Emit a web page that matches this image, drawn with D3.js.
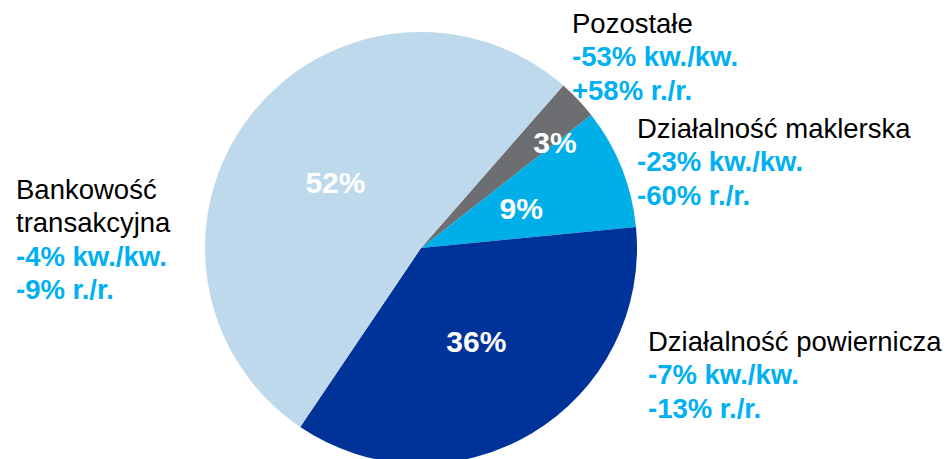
<!DOCTYPE html>
<html>
<head>
<meta charset="utf-8">
<script src="https://cdn.jsdelivr.net/npm/d3@7"></script>
<style>
  html, body { margin: 0; padding: 0; background: #fff; overflow: hidden; }
  text { font-family: Arial, "Liberation Sans", sans-serif; }
</style>
</head>
<body>
<div id="chart"></div>
<script>
// data
var categories = ["Pozostałe", "Działalność maklerska", "Działalność powiernicza", "Bankowość transakcyjna"];
var shares = [3, 9, 36, 52];
var qoq = ["-53% kw./kw.", "-23% kw./kw.", "-7% kw./kw.", "-4% kw./kw."];
var yoy = ["+58% r./r.", "-60% r./r.", "-13% r./r.", "-9% r./r."];

var cfg = {
  w: 949,
  h: 459,
  cx: 421,
  cy: 248,
  r: 216,
  startDeg: 41.2,
  color: ["#6d6e71", "#00aee8", "#003399", "#bed9eb"],
  textBlue: "#00b0f0",
  fontSize: 27.5,
  lineH: 33.4
};

// where each outside label block sits (x, baseline of first line), label lines split
var outside = [
  {x: 572, y: 33, lines: ["Pozostałe"]},
  {x: 637, y: 138, lines: ["Działalność maklerska"]},
  {x: 648, y: 351, lines: ["Działalność powiernicza"]},
  {x: 16, y: 199, lines: ["Bankowość", "transakcyjna"]}
];

var svg = d3.select("#chart")
  .append("svg")
  .attr("width", cfg.w)
  .attr("height", cfg.h);

var g = svg.append("g")
  .attr("transform", "translate(" + cfg.cx + "," + cfg.cy + ")");

var pie = d3.pie()
  .sort(null)
  .value(function(d) { return d; })
  .startAngle(cfg.startDeg * Math.PI / 180)
  .endAngle(cfg.startDeg * Math.PI / 180 + 2 * Math.PI);

var arcs = pie(shares);

var arc = d3.arc().innerRadius(0).outerRadius(cfg.r);

g.selectAll("path.slice")
  .data(arcs)
  .enter()
  .append("path")
  .attr("class", "slice")
  .attr("d", arc)
  .attr("fill", function(d, i) { return cfg.color[i]; });

// percent labels inside the slices
var labelArc = d3.arc().innerRadius(cfg.r * 0.5).outerRadius(cfg.r * 0.5);
var smallArc = d3.arc().innerRadius(cfg.r * 0.79).outerRadius(cfg.r * 0.79);

g.selectAll("text.pct")
  .data(arcs)
  .enter()
  .append("text")
  .attr("class", "pct")
  .attr("transform", function(d) {
    var c = d.data < 5 ? smallArc.centroid({startAngle: d.startAngle, endAngle: d.endAngle + 0.18})
                       : labelArc.centroid(d);
    return "translate(" + c[0] + "," + c[1] + ")";
  })
  .attr("text-anchor", "middle")
  .attr("dy", "0.36em")
  .attr("fill", "#fff")
  .attr("font-weight", "bold")
  .attr("font-size", "30px")
  .text(function(d) { return d.data + "%"; });

// outside labels
outside.forEach(function(o, i) {
  var t = svg.append("text")
    .attr("x", o.x)
    .attr("y", o.y)
    .attr("font-size", cfg.fontSize + "px");
  var lines = o.lines.map(function(s) { return {s: s, bold: false}; })
    .concat([{s: qoq[i], bold: true}, {s: yoy[i], bold: true}]);
  lines.forEach(function(l, k) {
    t.append("tspan")
      .attr("x", o.x)
      .attr("dy", k === 0 ? 0 : cfg.lineH)
      .attr("fill", l.bold ? cfg.textBlue : "#000")
      .attr("font-weight", l.bold ? "bold" : "normal")
      .text(l.s);
  });
});
</script>
</body>
</html>
